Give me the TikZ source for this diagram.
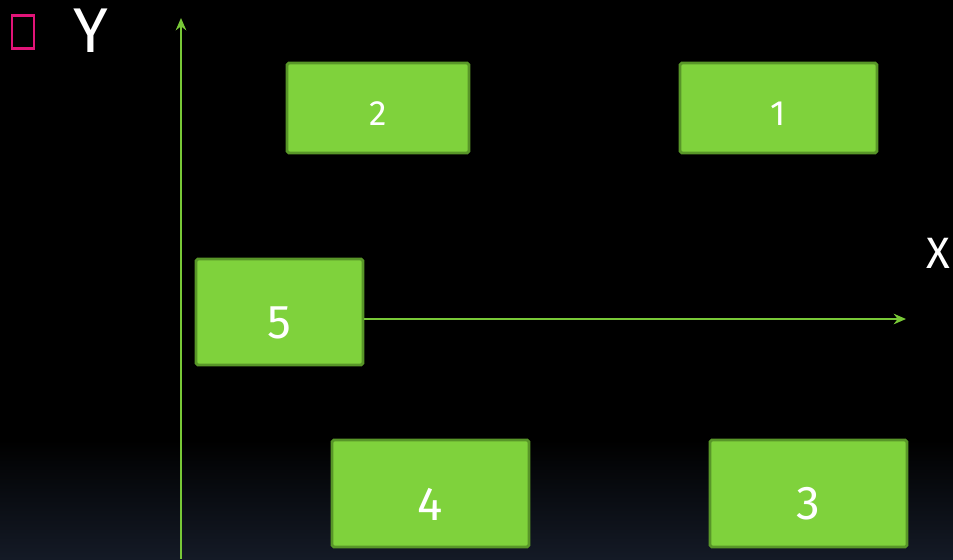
\documentclass[tikz,border=0pt]{standalone}
\usepackage{fontspec}
\setmainfont{Fira Sans}
\usepackage{tikz}
\usetikzlibrary{positioning,arrows.meta,shapes}

\definecolor{boxfill}{RGB}{127,210,60}
\definecolor{boxline}{RGB}{88,150,40}
\definecolor{axisgreen}{RGB}{120,200,55}
\definecolor{markpink}{RGB}{225,20,120}
\definecolor{navy}{RGB}{20,26,38}

% figures set low / small, as old-style digits
\newcommand{\lowfig}[1]{\raisebox{-0.21cm}[\height][\depth]{#1}}
\newcommand{\smallfig}[1]{{\fontsize{20}{22}\selectfont\raisebox{-0.12cm}[\height][\depth]{#1}}}

\tikzset{
    cell/.style={draw=boxline, fill=boxfill, line width=1.6pt,
        rounded corners=1pt, text=white,
        font=\fontsize{27}{29}\selectfont},
    axisline/.style={axisgreen, line width=1.2pt,
        -{Stealth[length=7pt, width=6pt]}},
    axislabel/.style={text=white}
}

\begin{document}
\begin{tikzpicture}[x=0.02cm, y=-0.02cm]
        % background
        \fill[black] (0,0) rectangle (953,559);
        \shade[top color=black, bottom color=navy] (0,440) rectangle (953,559);
        \useasboundingbox (0,0) rectangle (953,559);

        \draw[markpink, line width=1.7pt] (12,15) rectangle (34,48);
        \node[axislabel, font=\fontsize{36}{38}\selectfont] (ylab) at (91,31) {Y};
        \node[axislabel, font=\fontsize{25}{27}\selectfont] (xlab) at (938,253) {X};

        \node[cell, minimum width=3.64cm, minimum height=1.8cm] (b2) at (378,108) {\smallfig{2}};
        \node[cell, minimum width=3.94cm, minimum height=1.8cm] (b1) at (778.5,108) {\smallfig{1}};
        \node[cell, minimum width=3.34cm, minimum height=2.12cm] (b5) at (279.5,312) {\lowfig{5}};
        \node[cell, minimum width=3.94cm, minimum height=2.14cm] (b4) at (430.5,493.5) {\lowfig{4}};
        \node[cell, minimum width=3.94cm, minimum height=2.14cm] (b3) at (808.5,493.5) {\lowfig{3}};

        \coordinate (ybot) at (181,559);
        \coordinate (ytop) at (181,18);
        \coordinate (xend) at (906,319);

        \draw[axisline] (ybot) -- (ytop);
        \draw[axisline] (b5.east |- xend) -- (xend);
    \end{tikzpicture}
\end{document}
